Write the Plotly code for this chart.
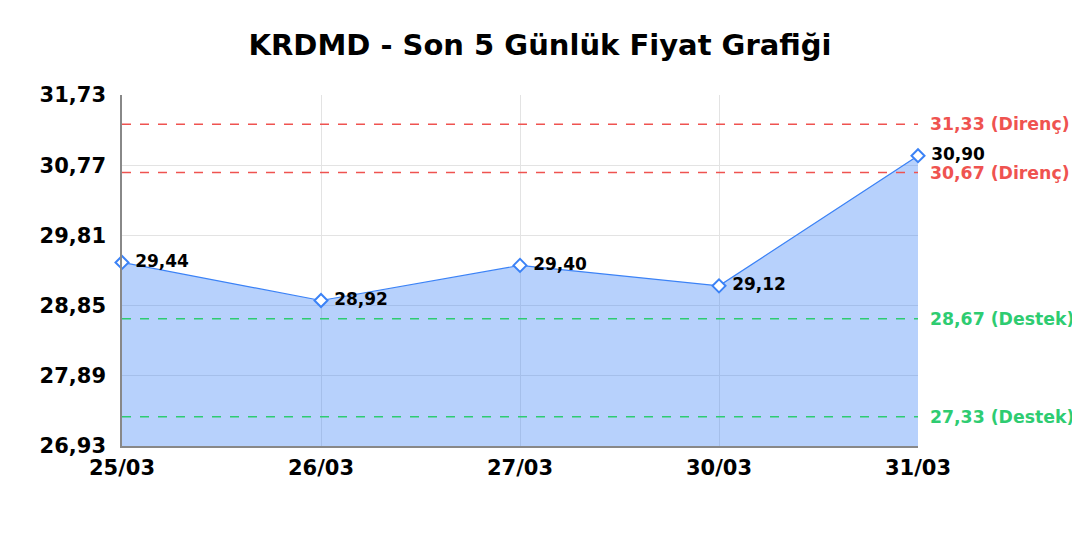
import plotly.graph_objects as go

# price data
dates = ['25/03', '26/03', '27/03', '30/03', '31/03']
prices = [29.44, 28.92, 29.40, 29.12, 30.90]

# support / resistance levels
resistance = [31.33, 30.67]
support = [28.67, 27.33]

y_ticks = [26.93, 27.89, 28.85, 29.81, 30.77, 31.73]

BLUE = '#3b82f6'
RED = '#ef5350'
GREEN = '#2ecc71'
FONT = 'DejaVu Sans'

fig = go.Figure()

fig.add_trace(go.Scatter(
    x=dates,
    y=prices,
    mode='lines+markers+text',
    fill='tozeroy',
    fillcolor='rgba(59,130,246,0.37)',
    line=dict(color=BLUE, width=1.2),
    marker=dict(symbol='diamond', size=10, color='white', line=dict(color=BLUE, width=2)),
    texttemplate=' %{y:.2f}',
    textposition='middle right',
    textfont=dict(family=FONT, size=17, color='black', weight='bold'),
    cliponaxis=False,
    name='Fiyat',
    showlegend=False
))

# dashed level lines with labels on the right
for levels, color, word in [(resistance, RED, 'Direnç'), (support, GREEN, 'Destek')]:
    for v in levels:
        fig.add_shape(type='line', xref='paper', yref='y', x0=0, x1=1, y0=v, y1=v,
                      line=dict(color=color, width=1.5, dash='dash'))
        fig.add_annotation(xref='paper', yref='y', x=1.012, y=v, xanchor='left', yanchor='middle',
                           text=f'{v:.2f}'.replace('.', ',') + f' ({word})', showarrow=False,
                           font=dict(family=FONT, size=17.3, color=color, weight='bold'))

fig.update_layout(
    width=1080, height=524,
    separators=',.',
    title=dict(text='KRDMD - Son 5 Günlük Fiyat Grafiği', x=532 / 1080, xanchor='center',
               y=0.929, yanchor='middle', yref='container',
               font=dict(family=FONT, size=29, color='black', weight='bold')),
    margin=dict(l=114, r=170, t=87, b=86),
    plot_bgcolor='white',
    paper_bgcolor='white',
    xaxis=dict(
        type='category', range=[0, 4],
        showgrid=True, gridcolor='#e3e3e3',
        showline=True, linecolor='#888888', linewidth=1.5,
        ticks='', ticklabelstandoff=2,
        tickfont=dict(family=FONT, size=21, color='black', weight='bold'),
        zeroline=False
    ),
    yaxis=dict(
        range=[26.93, 31.73], tickvals=y_ticks, tickformat='.2f',
        showgrid=True, gridcolor='#e3e3e3',
        showline=True, linecolor='#888888', linewidth=1.5,
        ticks='', ticklabelstandoff=10,
        tickfont=dict(family=FONT, size=21, color='black', weight='bold'),
        zeroline=False
    )
)

fig.write_html('out.html')
